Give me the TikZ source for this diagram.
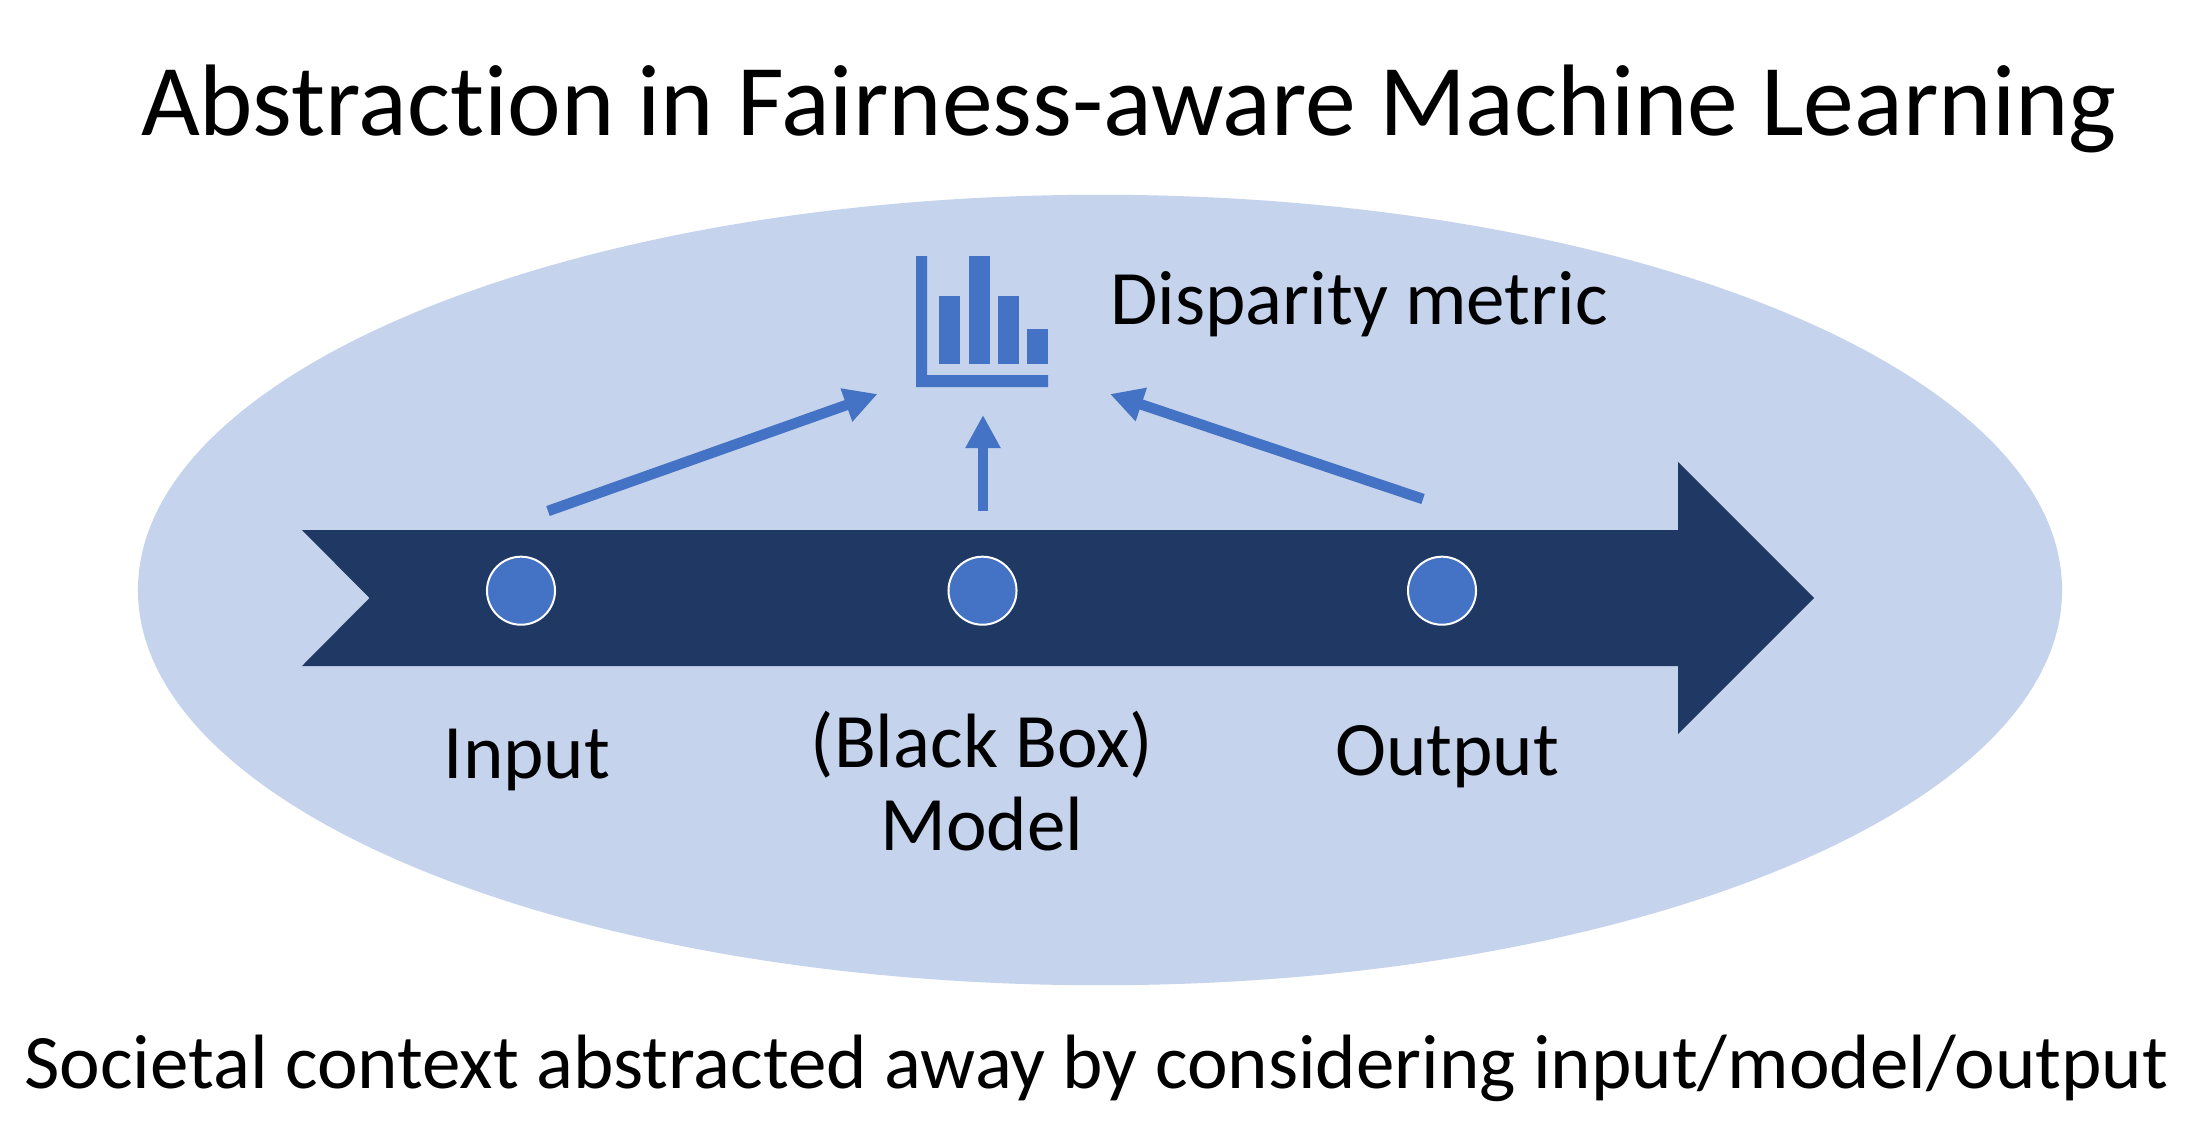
\documentclass[tikz,border=0pt]{standalone}
\usepackage{fontspec}
\setmainfont[RawFeature={-liga}]{Carlito}
\usetikzlibrary{arrows.meta, shapes.geometric}
\definecolor{contextblue}{HTML}{C5D3ED}
\definecolor{pipeblue}{HTML}{1F3864}
\definecolor{markblue}{HTML}{4472C4}
\tikzset{
	dot/.style = {circle, draw = white, line width = 0.02cm, fill = markblue, minimum size = 0.68cm, inner sep = 0},
	feed/.style = {-{Triangle[length = 0.33cm, width = 0.33cm]}, draw = markblue, line width = 0.105cm},
	word/.style = {anchor = base, inner sep = 0, font = \fontsize{21.9}{22}\selectfont}
}
\begin{document}
\begin{tikzpicture}[x = 0.01cm, y = -0.01cm]
		\useasboundingbox (0, 0) rectangle (2188, 1130);
		\node[ellipse, fill = contextblue, minimum width = 19.23cm, minimum height = 7.9cm, inner sep = 0] (context) at (1100, 590) {};
		\fill[pipeblue] (302, 530) -- (1678, 530) -- (1678, 462) -- (1814, 598) -- (1678, 734) -- (1678, 666) -- (302, 666) -- (369.5, 598) -- cycle;
		\foreach \x/\name in {521/input, 982.5/model, 1442/output}
			\node[dot] (\name) at (\x, 590.7) {};
		% chart icon
		\fill[markblue] (916, 256) -- (927, 256) -- (927, 375) -- (1048, 375) -- (1048, 387) -- (916, 387) -- cycle;
		\foreach \x/\y in {939/296, 969/256, 997.5/296, 1027/329}
			\fill[markblue] (\x, \y) rectangle (\x + 21, 364);
		\coordinate (inputfoot) at (548, 511);
		\coordinate (inputtip) at (877.5, 394);
		\coordinate (modelfoot) at (983, 511);
		\coordinate (modeltip) at (983, 415);
		\coordinate (outputfoot) at (1423, 499);
		\coordinate (outputtip) at (1110, 394);
		\draw[feed] (inputfoot) to (inputtip);
		\draw[feed] (modelfoot) to (modeltip);
		\draw[feed] (outputfoot) to (outputtip);
		\node[word, font = \fontsize{28.9}{29}\selectfont] (title) at (1129, 135) {Abstraction in Fairness-aware Machine Learning};
		\node[word] (metric) at (1359, 324) {Disparity metric};
		\node[word] (inputtext) at (527, 778) {Input};
		\node[word] (boxtext) at (982, 767) {(Black Box)};
		\node[word] (modeltext) at (982, 850) {Model};
		\node[word] (outputtext) at (1447, 775) {Output};
		\node[word] (societal) at (1096.5, 1088) {Societal context abstracted away by considering input/model/output};
	\end{tikzpicture}
\end{document}
